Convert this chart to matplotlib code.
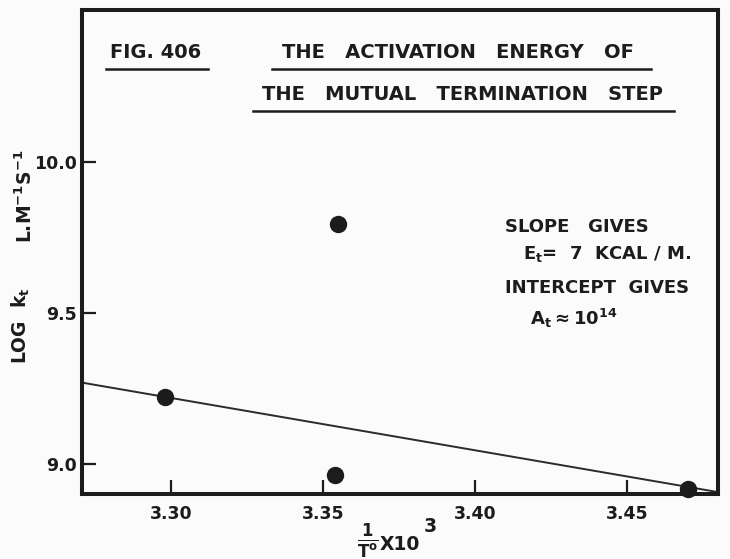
import matplotlib.pyplot as plt
from matplotlib.lines import Line2D

# rate constants of the termination step against reciprocal temperature
inv_temp = [3.298, 3.355, 3.354, 3.470]
log_kt = [9.223, 9.797, 8.964, 8.917]

# straight line drawn through the points, end to end across the frame
fit_x = [3.2707, 3.480]
fit_y = [9.270, 8.907]

x_ticks = [3.30, 3.35, 3.40, 3.45]
x_tick_labels = ['3.30', '3.35', '3.40', '3.45']
y_ticks = [9.0, 9.5, 10.0]
y_tick_labels = ['9.0', '9.5', '10.0']

INK = '#1c1c1c'
PAPER = '#fbfbfb'
W, H = 730, 559


def fx(x):
    return x / W


def fy(y):
    return 1 - y / H


plt.rcParams['font.family'] = ['DejaVu Sans']
plt.rcParams['font.weight'] = 'bold'
plt.rcParams['mathtext.fontset'] = 'dejavusans'
plt.rcParams['mathtext.default'] = 'bf'

fig = plt.figure(figsize=(W / 100, H / 100), dpi=100, facecolor=PAPER)
ax = fig.add_axes([fx(82), fy(494), (718 - 82) / W, (494 - 10) / H])
ax.set_facecolor(PAPER)

ax.plot(fit_x, fit_y, color='#2a2a2a', lw=1.4, zorder=2)
ax.plot(inv_temp, log_kt, 'o', ms=11.5, color=INK, zorder=3, clip_on=False)

ax.set_xlim(3.2707, 3.480)
ax.set_ylim(8.9007, 10.5056)
ax.set_xticks(x_ticks)
ax.set_xticklabels(x_tick_labels)
ax.set_yticks(y_ticks)
ax.set_yticklabels(y_tick_labels)
ax.tick_params(direction='in', length=10, width=1.6, colors=INK,
               labelsize=12.5)
ax.tick_params(axis='x', pad=8)
ax.tick_params(axis='y', pad=4)
for s in ax.spines.values():
    s.set_linewidth(2.9)
    s.set_color(INK)

# heading with hand-ruled underlines
txt = dict(color=INK, fontsize=14, va='center')
fig.text(fx(156), fy(53), 'FIG. 406', ha='center', **txt)
fig.text(fx(458), fy(53), 'THE   ACTIVATION   ENERGY   OF', ha='center', **txt)
fig.text(fx(462), fy(94), 'THE   MUTUAL   TERMINATION   STEP', ha='center', **txt)
for x0, x1, y in [(106, 208, 69), (272, 651, 69), (253, 674, 111)]:
    fig.add_artist(Line2D([fx(x0), fx(x1)], [fy(y), fy(y)], color=INK, lw=1.8))

# result notes
note = dict(color=INK, fontsize=13, va='center', ha='left')
fig.text(fx(505), fy(227), 'SLOPE   GIVES', **note)
fig.text(fx(523), fy(254), r'E$_t$=  7  KCAL / M.', **note)
fig.text(fx(505), fy(288), 'INTERCEPT  GIVES', **note)
fig.text(fx(530), fy(318), r'A$_t\approx$10$^{14}$', **note)

# axis titles
fig.text(fx(21), fy(326), r'LOG  k$_t$', rotation=90, ha='center', va='center',
         color=INK, fontsize=13.5)
fig.text(fx(25), fy(196), r'L.M$^{-1}$S$^{-1}$', rotation=90, ha='center',
         va='center', color=INK, fontsize=13.5)
fig.text(fx(368), fy(541), r'$\frac{1}{\mathbf{T}^{o}}$', ha='center',
         va='center', color=INK, fontsize=17)
fig.text(fx(380), fy(544), 'X10', ha='left', va='center', color=INK,
         fontsize=13.5)
fig.text(fx(424), fy(526), '3', ha='left', va='center', color=INK,
         fontsize=13.5)

fig.savefig('out.png', dpi=100, facecolor=PAPER)
